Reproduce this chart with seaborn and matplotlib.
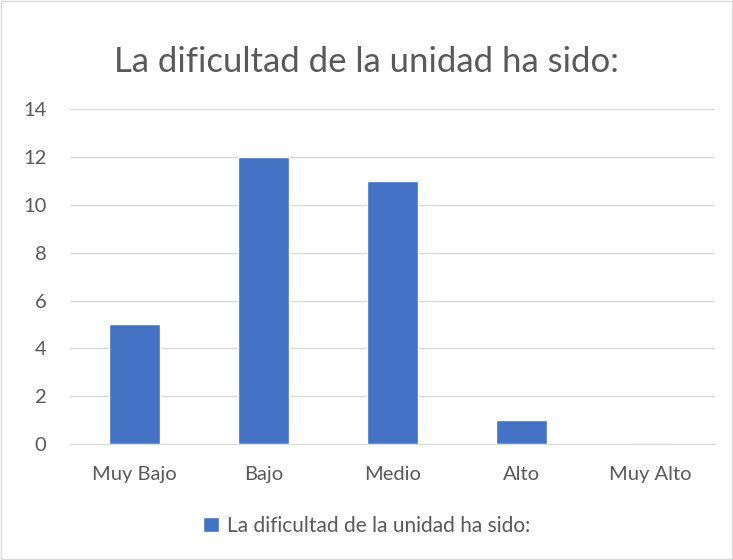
import matplotlib
matplotlib.use('Agg')
import matplotlib.pyplot as plt
import seaborn as sns
import pandas as pd
from matplotlib.patches import Rectangle

sns.set_style('white')
plt.rcParams['font.family'] = ['Lato', 'DejaVu Sans']

# data
categories = ['Muy Bajo', 'Bajo', 'Medio', 'Alto', 'Muy Alto']
values = [5, 12, 11, 1, 0]
series_name = 'La dificultad de la unidad ha sido:'
y_ticks = [0, 2, 4, 6, 8, 10, 12, 14]

df = pd.DataFrame({'cat': categories, 'val': values})

fig = plt.figure(figsize=(7.33, 5.6), dpi=100)
fig.patches.append(Rectangle((0.001, 0.001), 0.998, 0.998, transform=fig.transFigure,
                             fill=False, edgecolor='#D9D9D9', linewidth=1))
ax = fig.add_axes([0.0955, 0.207, 0.88, 0.598])

sns.barplot(data=df, x='cat', y='val', color='#4472C4', width=0.4, saturation=1,
            ax=ax, label=series_name)

ax.set_ylim(0, 14)
ax.set_yticks(y_ticks)
ax.yaxis.grid(True, color='#D9D9D9', linewidth=1)
ax.set_axisbelow(True)
for s in ['top', 'right', 'left']:
    ax.spines[s].set_visible(False)
ax.spines['bottom'].set_color('#D9D9D9')
ax.set_xlabel('')
ax.set_ylabel('')
ax.tick_params(axis='both', length=0, labelsize=14.5, colors='#595959')
ax.tick_params(axis='x', pad=16)
ax.tick_params(axis='y', pad=17)

fig.text(0.5, 0.89, series_name, ha='center', va='center', fontsize=25, color='#595959')

if ax.legend_:
    ax.legend_.remove()
handles, labels = ax.get_legend_handles_labels()
fig.legend(handles, labels, loc='center', bbox_to_anchor=(0.5, 0.061), frameon=False,
           fontsize=15, labelcolor='#595959', handlelength=0.75, handleheight=0.75,
           handletextpad=0.4)

fig.savefig('out.png', dpi=100)
